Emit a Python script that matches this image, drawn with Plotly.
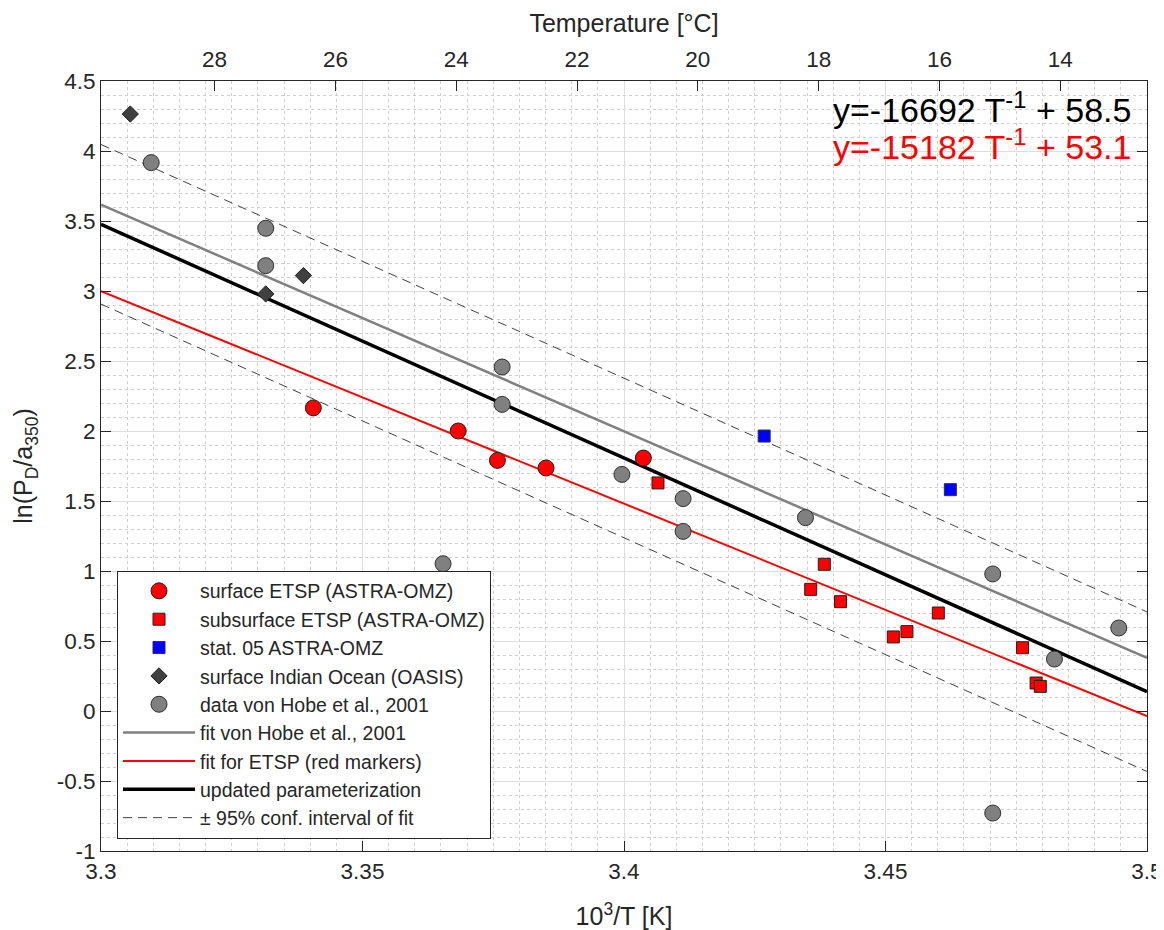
import plotly.graph_objects as go

# ---------------- data ----------------
surf_x = [3.3406, 3.3683, 3.3758, 3.3851, 3.4037]
surf_y = [2.165, 2.000, 1.790, 1.736, 1.807]

sub_x = [3.4065, 3.4383, 3.4357, 3.4414, 3.4515, 3.4541, 3.4601, 3.4762, 3.4788, 3.4796]
sub_y = [1.629, 1.048, 0.869, 0.781, 0.529, 0.567, 0.700, 0.452, 0.200, 0.176]

stat05_x = [3.4268, 3.4624]
stat05_y = [1.964, 1.581]

io_x = [3.3056, 3.3387, 3.3315]
io_y = [4.264, 3.110, 2.979]

vh_x = [3.3096, 3.3315, 3.3315, 3.3654, 3.3767, 3.3767, 3.3996, 3.4113, 3.4113,
        3.4347, 3.4705, 3.4705, 3.4823, 3.4946]
vh_y = [3.917, 3.448, 3.181, 1.052, 2.457, 2.190, 1.690, 1.517, 1.283,
        1.381, 0.979, -0.729, 0.371, 0.593]

# fits: (slope per 10^3/T, intercept)
fit_x = [3.3, 3.5]
vh_fit = (-16.18, 57.01)
etsp_fit = (-15.182, 53.1)
upd_fit = (-16.692, 58.56)
ci_half = 0.57

x_ticks = [3.3, 3.35, 3.4, 3.45, 3.5]
x_ticktext = ["3.3", "3.35", "3.4", "3.45", "3.5"]
y_ticks = [-1, -0.5, 0, 0.5, 1, 1.5, 2, 2.5, 3, 3.5, 4, 4.5]
y_ticktext = ["-1", "-0.5", "0", "0.5", "1", "1.5", "2", "2.5", "3", "3.5", "4", "4.5"]
temp_ticks = [28, 26, 24, 22, 20, 18, 16, 14]

eq1 = "y=-16692 T<sup>-1</sup> + 58.5"
eq2 = "y=-15182 T<sup>-1</sup> + 53.1"

FONT = "Liberation Sans, Arial, Helvetica, sans-serif"
AX = "#262626"


def line(fit, off=0.0):
    return [fit[0] * x + fit[1] + off for x in fit_x]


fig = go.Figure()

# lines (drawn first, below markers)
fig.add_trace(go.Scatter(x=fit_x, y=line(vh_fit), mode="lines",
                         line=dict(color="#808080", width=2.5),
                         name="fit von Hobe et al., 2001", legendrank=6))
fig.add_trace(go.Scatter(x=fit_x, y=line(etsp_fit), mode="lines",
                         line=dict(color="#ff0000", width=2),
                         name="fit for ETSP (red markers)", legendrank=7))
fig.add_trace(go.Scatter(x=fit_x, y=line(upd_fit), mode="lines",
                         line=dict(color="#000000", width=3.5),
                         name="updated parameterization", legendrank=8))
fig.add_trace(go.Scatter(x=fit_x, y=line(upd_fit, ci_half), mode="lines",
                         line=dict(color="#404040", width=1, dash="9px,6px"),
                         name="± 95% conf. interval of fit", legendrank=9))
fig.add_trace(go.Scatter(x=fit_x, y=line(upd_fit, -ci_half), mode="lines",
                         line=dict(color="#404040", width=1, dash="9px,6px"),
                         showlegend=False))

# markers
fig.add_trace(go.Scatter(x=vh_x, y=vh_y, mode="markers",
                         marker=dict(symbol="circle", size=16, color="#808080",
                                     line=dict(color="#303030", width=1)),
                         name="data von Hobe et al., 2001", legendrank=5))
fig.add_trace(go.Scatter(x=io_x, y=io_y, mode="markers",
                         marker=dict(symbol="diamond", size=12.5, color="#404040",
                                     line=dict(color="#202020", width=1)),
                         name="surface Indian Ocean (OASIS)", legendrank=4))
fig.add_trace(go.Scatter(x=stat05_x, y=stat05_y, mode="markers",
                         marker=dict(symbol="square", size=12, color="#0000ff",
                                     line=dict(color="#303030", width=1)),
                         name="stat. 05 ASTRA-OMZ", legendrank=3))
fig.add_trace(go.Scatter(x=sub_x, y=sub_y, mode="markers",
                         marker=dict(symbol="square", size=12, color="#ff0000",
                                     line=dict(color="#202020", width=1)),
                         name="subsurface ETSP (ASTRA-OMZ)", legendrank=2))
fig.add_trace(go.Scatter(x=surf_x, y=surf_y, mode="markers",
                         marker=dict(symbol="circle", size=16, color="#ff0000",
                                     line=dict(color="#202020", width=1)),
                         name="surface ETSP (ASTRA-OMZ)", legendrank=1))

# dummy trace to anchor the temperature axis
t_left = 1000.0 / fit_x[0] - 273.15
t_right = 1000.0 / fit_x[1] - 273.15
fig.add_trace(go.Scatter(x=[t_left, t_right], y=[None, None], xaxis="x2",
                         mode="markers", showlegend=False, hoverinfo="skip"))

# page body adds an 8px margin, so the figure is 8px smaller than the window
fig.update_layout(
    width=1156, height=922,
    template="none",
    paper_bgcolor="white", plot_bgcolor="white",
    margin=dict(l=93, r=17, t=73, b=79),
    font=dict(family=FONT, color=AX, size=22),
    xaxis=dict(
        range=[3.3, 3.5], tickvals=x_ticks, ticktext=x_ticktext,
        ticks="inside", ticklen=10, tickcolor=AX, tickwidth=1,
        showline=True, linecolor=AX, linewidth=1, mirror=True,
        showgrid=True, gridcolor="#dedede", gridwidth=1,
        minor=dict(dtick=0.005, tick0=3.3, showgrid=True, gridcolor="#cfcfcf",
                   griddash="dot", gridwidth=1),
        zeroline=False, automargin=False,
        tickfont=dict(size=22.5, color=AX),
        title=dict(text="10<sup>3</sup>/T [K]", font=dict(size=25, color=AX), standoff=24),
    ),
    xaxis2=dict(
        overlaying="x", side="top", range=[t_left, t_right],
        tickvals=temp_ticks, ticktext=[str(t) for t in temp_ticks],
        ticks="inside", ticklen=10, tickcolor=AX, tickwidth=1,
        showline=True, linecolor=AX, linewidth=1,
        showgrid=False, zeroline=False, automargin=False,
        ticklabelstandoff=4,
        tickfont=dict(size=22.5, color=AX),
        title=dict(text="Temperature [°C]", font=dict(size=25, color=AX), standoff=7),
    ),
    yaxis=dict(
        range=[-1, 4.5], tickvals=y_ticks, ticktext=y_ticktext,
        ticks="inside", ticklen=10, tickcolor=AX, tickwidth=1,
        showline=True, linecolor=AX, linewidth=1, mirror="ticks",
        showgrid=True, gridcolor="#dedede", gridwidth=1,
        minor=dict(dtick=0.1, tick0=0, showgrid=True, gridcolor="#cfcfcf",
                   griddash="dot", gridwidth=1),
        zeroline=False, automargin=False,
        tickfont=dict(size=22.5, color=AX),
        title=dict(text="ln(P<sub>D</sub>/a<sub>350</sub>)", font=dict(size=25, color=AX), standoff=16),
    ),
    legend=dict(
        x=0.0153, y=0.016, xanchor="left", yanchor="bottom",
        bgcolor="white", bordercolor=AX, borderwidth=1,
        font=dict(size=19.5, color=AX, family=FONT),
        tracegroupgap=0, itemwidth=72,
    ),
    showlegend=True,
    annotations=[
        dict(text=eq1, xref="paper", yref="paper", x=0.9866, y=0.966,
             xanchor="right", yanchor="middle", showarrow=False,
             font=dict(size=34, color="#000000", family=FONT)),
        dict(text=eq2, xref="paper", yref="paper", x=0.9866, y=0.917,
             xanchor="right", yanchor="middle", showarrow=False,
             font=dict(size=34, color="#ff0000", family=FONT)),
    ],
)

fig.write_html("out.html")
